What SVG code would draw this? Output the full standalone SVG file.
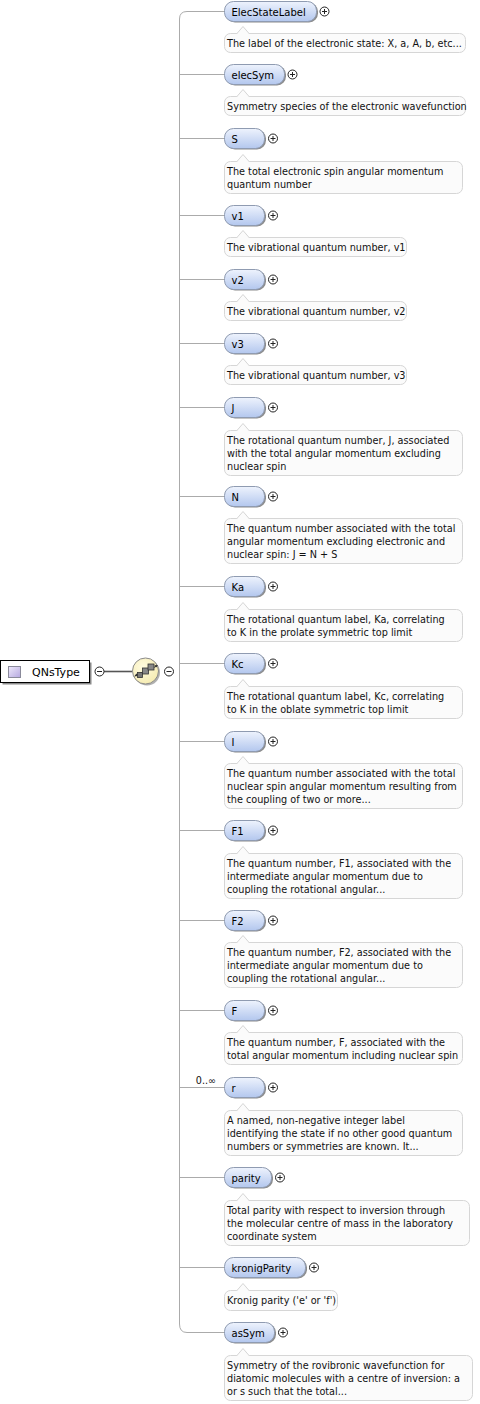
<svg xmlns="http://www.w3.org/2000/svg" xmlns:xlink="http://www.w3.org/1999/xlink" width="480" height="1404" viewBox="0 0 480 1404">
<style>
.br{stroke:#ababab;fill:none;stroke-width:1}
.pill{fill:url(#pillg);stroke:#8f9bb1;stroke-width:1}
.psh{fill:#8c8c8c}
.lbl{font-family:"DejaVu Sans",sans-serif;font-size:10px;fill:#000}
.doc{fill:#fbfbfb;stroke:#d6d6d6;stroke-width:1}
.dt{font-family:"DejaVu Sans",sans-serif;font-size:9.7px;fill:#111}
.occ{font-family:"DejaVu Sans",sans-serif;font-size:9.6px;fill:#111}
.pmc{fill:#fff;stroke:#222;stroke-width:1}
.pml{stroke:#222;stroke-width:1}
</style>
<defs>
<linearGradient id="pillg" x1="0" y1="0" x2="0" y2="1"><stop offset="0" stop-color="#eef3fd"/><stop offset="1" stop-color="#b3c7ee"/></linearGradient>
<linearGradient id="sqg" x1="0" y1="0" x2="1" y2="1"><stop offset="0" stop-color="#efeafb"/><stop offset="1" stop-color="#b5a8e0"/></linearGradient>
<radialGradient id="seqg" cx="0.4" cy="0.35" r="0.7"><stop offset="0" stop-color="#fffbe0"/><stop offset="1" stop-color="#f5ebb0"/></radialGradient>
<g id="plus"><circle class="pmc" cx="0" cy="0" r="4.5"/><path class="pml" d="M-2.5,0H2.5M0,-2.5V2.5"/></g>
<g id="minus"><circle class="pmc" cx="0" cy="0" r="4.5"/><path class="pml" d="M-2.5,0H2.5"/></g>
</defs>

<g id="connectors">
<path class="br" d="M224,11.5H187Q179.5,11.5 179.5,19V1324Q179.5,1332.5 187,1332.5H224"/>
<path class="br" d="M179.5,74.5H224M179.5,138.5H224M179.5,215.5H224M179.5,279.5H224M179.5,343.5H224M179.5,407.5H224M179.5,496.5H224M179.5,586.5H224M179.5,663.5H224M179.5,741.5H224M179.5,830.5H224M179.5,920.5H224M179.5,1010.5H224M179.5,1087.5H224M179.5,1177.5H224M179.5,1267.5H224"/>
<path d="M104,671.5H132" stroke="#555" stroke-width="1.6"/>
</g>

<g id="QNsType">
<rect x="2.5" y="662.5" width="89" height="22" fill="#8a8a8a"/>
<rect x="0.5" y="660.5" width="89" height="22" fill="#fff" stroke="#000"/>
<rect x="8.5" y="666.5" width="12" height="11" fill="url(#sqg)" stroke="#8a8a9a"/>
<text x="32" y="675.5" font-family="DejaVu Sans, sans-serif" font-size="11" fill="#000">QNsType</text>
<use xlink:href="#minus" x="99.5" y="671.5"/>
</g>

<g id="sequence">
<circle cx="147" cy="672.5" r="13" fill="#b0b0b0"/>
<circle cx="145.5" cy="671" r="13" fill="url(#seqg)" stroke="#8a8a8a"/>
<path d="M135,675.5L157,666" stroke="#333" stroke-width="1"/>
<path d="M134,676.5l3,-3.2l0.8,2.6z M158,665l-3.6,0.2l1.7,2.2z" fill="#333"/>
<rect x="137.5" y="672.5" width="5" height="5" fill="#777" stroke="#333" stroke-width="0.8"/>
<rect x="142.5" y="668" width="6" height="6" fill="#888" stroke="#333" stroke-width="0.8"/>
<rect x="148" y="664" width="6" height="6" fill="#888" stroke="#333" stroke-width="0.8"/>
<use xlink:href="#minus" x="169" y="671.5"/>
</g>

<g id="ElecStateLabel">
<rect class="psh" x="226" y="2.5" width="92" height="20" rx="9"/>
<rect class="pill" x="224.5" y="1.5" width="92" height="20" rx="9"/>
<text class="lbl" x="231.5" y="15.5">ElecStateLabel</text>
<use xlink:href="#plus" x="324.5" y="11.5"/>
<rect class="doc" x="224.5" y="33.5" width="241" height="19" rx="6"/>
<path class="doc" d="M236.5,34L243,26.5L249.5,34"/>
<text class="dt" x="227" y="46.5">The label of the electronic state: X, a, A, b, etc...</text>
</g>

<g id="elecSym">
<rect class="psh" x="226" y="65.5" width="60" height="20" rx="9"/>
<rect class="pill" x="224.5" y="64.5" width="60" height="20" rx="9"/>
<text class="lbl" x="231.5" y="78.5">elecSym</text>
<use xlink:href="#plus" x="292.5" y="74.5"/>
<rect class="doc" x="224.5" y="96.5" width="241" height="19" rx="6"/>
<path class="doc" d="M236.5,97L243,89.5L249.5,97"/>
<text class="dt" x="227" y="109.5">Symmetry species of the electronic wavefunction</text>
</g>

<g id="S">
<rect class="psh" x="226" y="129.5" width="40" height="20" rx="9"/>
<rect class="pill" x="224.5" y="128.5" width="40" height="20" rx="9"/>
<text class="lbl" x="231.5" y="142.5">S</text>
<use xlink:href="#plus" x="273" y="138.5"/>
<rect class="doc" x="224.5" y="161.5" width="238" height="32" rx="6"/>
<path class="doc" d="M236.5,162L243,154.5L249.5,162"/>
<text class="dt" x="227" y="174.5">The total electronic spin angular momentum</text>
<text class="dt" x="227" y="187.5">quantum number</text>
</g>

<g id="v1">
<rect class="psh" x="226" y="206.5" width="40" height="20" rx="9"/>
<rect class="pill" x="224.5" y="205.5" width="40" height="20" rx="9"/>
<text class="lbl" x="231.5" y="219.5">v1</text>
<use xlink:href="#plus" x="273" y="215.5"/>
<rect class="doc" x="224.5" y="237.5" width="182" height="19" rx="6"/>
<path class="doc" d="M236.5,238L243,230.5L249.5,238"/>
<text class="dt" x="227" y="250.5">The vibrational quantum number, v1</text>
</g>

<g id="v2">
<rect class="psh" x="226" y="270.5" width="40" height="20" rx="9"/>
<rect class="pill" x="224.5" y="269.5" width="40" height="20" rx="9"/>
<text class="lbl" x="231.5" y="283.5">v2</text>
<use xlink:href="#plus" x="273" y="279.5"/>
<rect class="doc" x="224.5" y="301.5" width="182" height="19" rx="6"/>
<path class="doc" d="M236.5,302L243,294.5L249.5,302"/>
<text class="dt" x="227" y="314.5">The vibrational quantum number, v2</text>
</g>

<g id="v3">
<rect class="psh" x="226" y="334.5" width="40" height="20" rx="9"/>
<rect class="pill" x="224.5" y="333.5" width="40" height="20" rx="9"/>
<text class="lbl" x="231.5" y="347.5">v3</text>
<use xlink:href="#plus" x="273" y="343.5"/>
<rect class="doc" x="224.5" y="365.5" width="182" height="19" rx="6"/>
<path class="doc" d="M236.5,366L243,358.5L249.5,366"/>
<text class="dt" x="227" y="378.5">The vibrational quantum number, v3</text>
</g>

<g id="J">
<rect class="psh" x="226" y="398.5" width="40" height="20" rx="9"/>
<rect class="pill" x="224.5" y="397.5" width="40" height="20" rx="9"/>
<text class="lbl" x="231.5" y="411.5">J</text>
<use xlink:href="#plus" x="273" y="407.5"/>
<rect class="doc" x="224.5" y="430.5" width="238" height="45" rx="6"/>
<path class="doc" d="M236.5,431L243,423.5L249.5,431"/>
<text class="dt" x="227" y="443.5">The rotational quantum number, J, associated</text>
<text class="dt" x="227" y="456.5">with the total angular momentum excluding</text>
<text class="dt" x="227" y="469.5">nuclear spin</text>
</g>

<g id="N">
<rect class="psh" x="226" y="487.5" width="40" height="20" rx="9"/>
<rect class="pill" x="224.5" y="486.5" width="40" height="20" rx="9"/>
<text class="lbl" x="231.5" y="500.5">N</text>
<use xlink:href="#plus" x="273" y="496.5"/>
<rect class="doc" x="224.5" y="518.5" width="238" height="45" rx="6"/>
<path class="doc" d="M236.5,519L243,511.5L249.5,519"/>
<text class="dt" x="227" y="531.5">The quantum number associated with the total</text>
<text class="dt" x="227" y="544.5">angular momentum excluding electronic and</text>
<text class="dt" x="227" y="557.5">nuclear spin: J = N + S</text>
</g>

<g id="Ka">
<rect class="psh" x="226" y="577.5" width="40" height="20" rx="9"/>
<rect class="pill" x="224.5" y="576.5" width="40" height="20" rx="9"/>
<text class="lbl" x="231.5" y="590.5">Ka</text>
<use xlink:href="#plus" x="273" y="586.5"/>
<rect class="doc" x="224.5" y="609.5" width="238" height="32" rx="6"/>
<path class="doc" d="M236.5,610L243,602.5L249.5,610"/>
<text class="dt" x="227" y="622.5">The rotational quantum label, Ka, correlating</text>
<text class="dt" x="227" y="635.5">to K in the prolate symmetric top limit</text>
</g>

<g id="Kc">
<rect class="psh" x="226" y="654.5" width="40" height="20" rx="9"/>
<rect class="pill" x="224.5" y="653.5" width="40" height="20" rx="9"/>
<text class="lbl" x="231.5" y="667.5">Kc</text>
<use xlink:href="#plus" x="273" y="663.5"/>
<rect class="doc" x="224.5" y="686.5" width="238" height="32" rx="6"/>
<path class="doc" d="M236.5,687L243,679.5L249.5,687"/>
<text class="dt" x="227" y="699.5">The rotational quantum label, Kc, correlating</text>
<text class="dt" x="227" y="712.5">to K in the oblate symmetric top limit</text>
</g>

<g id="I">
<rect class="psh" x="226" y="732.5" width="40" height="20" rx="9"/>
<rect class="pill" x="224.5" y="731.5" width="40" height="20" rx="9"/>
<text class="lbl" x="231.5" y="745.5">I</text>
<use xlink:href="#plus" x="273" y="741.5"/>
<rect class="doc" x="224.5" y="763.5" width="238" height="45" rx="6"/>
<path class="doc" d="M236.5,764L243,756.5L249.5,764"/>
<text class="dt" x="227" y="776.5">The quantum number associated with the total</text>
<text class="dt" x="227" y="789.5">nuclear spin angular momentum resulting from</text>
<text class="dt" x="227" y="802.5">the coupling of two or more...</text>
</g>

<g id="F1">
<rect class="psh" x="226" y="821.5" width="40" height="20" rx="9"/>
<rect class="pill" x="224.5" y="820.5" width="40" height="20" rx="9"/>
<text class="lbl" x="231.5" y="834.5">F1</text>
<use xlink:href="#plus" x="273" y="830.5"/>
<rect class="doc" x="224.5" y="853.5" width="238" height="45" rx="6"/>
<path class="doc" d="M236.5,854L243,846.5L249.5,854"/>
<text class="dt" x="227" y="866.5">The quantum number, F1, associated with the</text>
<text class="dt" x="227" y="879.5">intermediate angular momentum due to</text>
<text class="dt" x="227" y="892.5">coupling the rotational angular...</text>
</g>

<g id="F2">
<rect class="psh" x="226" y="911.5" width="40" height="20" rx="9"/>
<rect class="pill" x="224.5" y="910.5" width="40" height="20" rx="9"/>
<text class="lbl" x="231.5" y="924.5">F2</text>
<use xlink:href="#plus" x="273" y="920.5"/>
<rect class="doc" x="224.5" y="942.5" width="238" height="45" rx="6"/>
<path class="doc" d="M236.5,943L243,935.5L249.5,943"/>
<text class="dt" x="227" y="955.5">The quantum number, F2, associated with the</text>
<text class="dt" x="227" y="968.5">intermediate angular momentum due to</text>
<text class="dt" x="227" y="981.5">coupling the rotational angular...</text>
</g>

<g id="F">
<rect class="psh" x="226" y="1001.5" width="40" height="20" rx="9"/>
<rect class="pill" x="224.5" y="1000.5" width="40" height="20" rx="9"/>
<text class="lbl" x="231.5" y="1014.5">F</text>
<use xlink:href="#plus" x="273" y="1010.5"/>
<rect class="doc" x="224.5" y="1032.5" width="238" height="32" rx="6"/>
<path class="doc" d="M236.5,1033L243,1025.5L249.5,1033"/>
<text class="dt" x="227" y="1045.5">The quantum number, F, associated with the</text>
<text class="dt" x="227" y="1058.5">total angular momentum including nuclear spin</text>
</g>

<g id="r">
<text class="occ" x="216" y="1084" text-anchor="end">0..∞</text>
<rect class="psh" x="226" y="1078.5" width="40" height="20" rx="9"/>
<rect class="pill" x="224.5" y="1077.5" width="40" height="20" rx="9"/>
<text class="lbl" x="231.5" y="1091.5">r</text>
<use xlink:href="#plus" x="273" y="1087.5"/>
<rect class="doc" x="224.5" y="1110.5" width="238" height="45" rx="6"/>
<path class="doc" d="M236.5,1111L243,1103.5L249.5,1111"/>
<text class="dt" x="227" y="1123.5">A named, non-negative integer label</text>
<text class="dt" x="227" y="1136.5">identifying the state if no other good quantum</text>
<text class="dt" x="227" y="1149.5">numbers or symmetries are known. It...</text>
</g>

<g id="parity">
<rect class="psh" x="226" y="1168.5" width="47" height="20" rx="9"/>
<rect class="pill" x="224.5" y="1167.5" width="47" height="20" rx="9"/>
<text class="lbl" x="231.5" y="1181.5">parity</text>
<use xlink:href="#plus" x="280" y="1177.5"/>
<rect class="doc" x="224.5" y="1200.5" width="245" height="45" rx="6"/>
<path class="doc" d="M236.5,1201L243,1193.5L249.5,1201"/>
<text class="dt" x="227" y="1213.5">Total parity with respect to inversion through</text>
<text class="dt" x="227" y="1226.5">the molecular centre of mass in the laboratory</text>
<text class="dt" x="227" y="1239.5">coordinate system</text>
</g>

<g id="kronigParity">
<rect class="psh" x="226" y="1258.5" width="81" height="20" rx="9"/>
<rect class="pill" x="224.5" y="1257.5" width="81" height="20" rx="9"/>
<text class="lbl" x="231.5" y="1271.5">kronigParity</text>
<use xlink:href="#plus" x="314" y="1267.5"/>
<rect class="doc" x="224.5" y="1290.5" width="113" height="20" rx="6"/>
<path class="doc" d="M236.5,1291L243,1283.5L249.5,1291"/>
<text class="dt" x="227" y="1303.5">Kronig parity ('e' or 'f')</text>
</g>

<g id="asSym">
<rect class="psh" x="226" y="1323.5" width="50" height="20" rx="9"/>
<rect class="pill" x="224.5" y="1322.5" width="50" height="20" rx="9"/>
<text class="lbl" x="231.5" y="1336.5">asSym</text>
<use xlink:href="#plus" x="283" y="1332.5"/>
<rect class="doc" x="224.5" y="1355.5" width="248" height="45" rx="6"/>
<path class="doc" d="M236.5,1356L243,1348.5L249.5,1356"/>
<text class="dt" x="227" y="1368.5">Symmetry of the rovibronic wavefunction for</text>
<text class="dt" x="227" y="1381.5">diatomic molecules with a centre of inversion: a</text>
<text class="dt" x="227" y="1394.5">or s such that the total...</text>
</g>
</svg>
